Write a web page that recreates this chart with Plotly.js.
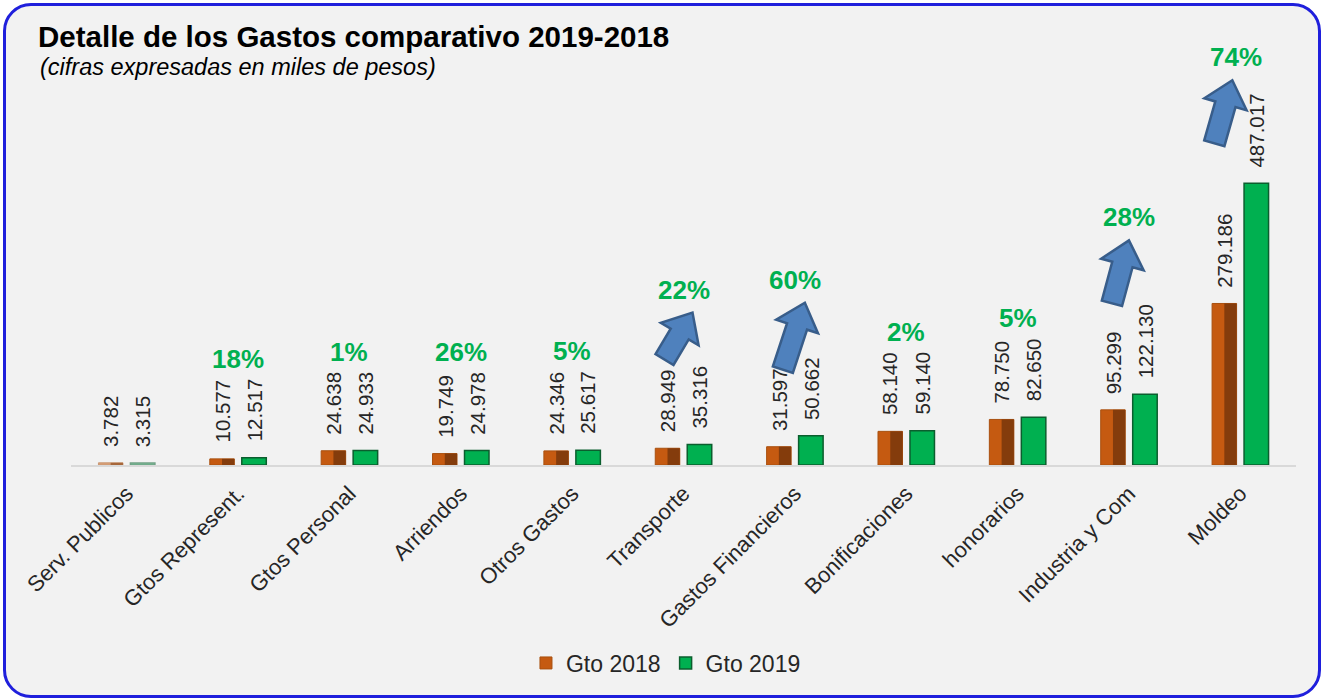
<!DOCTYPE html>
<html>
<head>
<meta charset="utf-8">
<script src="https://cdn.plot.ly/plotly-3.0.1.min.js"></script>
<style>
  body { margin: 0; background: #ffffff; }
  #marco { position: absolute; left: 3px; top: 3px; width: 1312px; height: 689px;
           border: 3px solid #1f1fdc; border-radius: 28px; background: #f2f2f2; }
  #grafico { position: absolute; left: 0; top: 0; width: 1324px; height: 700px; }
</style>
</head>
<body>
<div id="marco"></div>
<div id="grafico"></div>
<script>
// --- 1. DATOS (miles de pesos) ---
const categorias = ['Serv. Publicos', 'Gtos Represent.', 'Gtos Personal', 'Arriendos', 'Otros Gastos',
    'Transporte', 'Gastos Financieros', 'Bonificaciones', 'honorarios', 'Industria y Com', 'Moldeo'];
const gto2018 = [3782, 10577, 24638, 19749, 24346, 28949, 31597, 58140, 78750, 95299, 279186];
const gto2019 = [3315, 12517, 24933, 24978, 25617, 35316, 50662, 59140, 82650, 122130, 487017];
const conFlecha = ['Transporte', 'Gastos Financieros', 'Industria y Com', 'Moldeo'];

// --- 2. ESTILO ---
const FUENTE = '"Liberation Sans", Arial, sans-serif';
const ANCHO = 0.22;          // ancho de barra (unidades de categoria)
const DESP = 0.1436;         // centro de cada barra respecto al centro del grupo
const DESP_PX = 16;

// posicion de las flechas en pixeles, relativo al centro del grupo y al tope de la barra mayor
const flechas = {
    'Transporte':         { cola: [-19, 85], punta: [9, 132] },
    'Gastos Financieros': { cola: [-12, 66], punta: [10, 133] },
    'Industria y Com':    { cola: [-17, 91], punta: [0, 154] },
    'Moldeo':             { cola: [-26, 40], punta: [-8, 103] }
};

function formato(v) {
    return String(v).replace(/\B(?=(\d{3})+(?!\d))/g, '.');
}

function caminoFlecha(t, p) {
    const dx = p[0] - t[0], dy = p[1] - t[1];
    const L = Math.sqrt(dx * dx + dy * dy);
    const ux = dx / L, uy = dy / L;
    const nx = -uy, ny = ux;
    const h = 25, hw = 22, sw = 10.5;
    const bx = p[0] - ux * h, by = p[1] - uy * h;
    const pts = [
        [t[0] + nx * sw, t[1] + ny * sw],
        [bx + nx * sw, by + ny * sw],
        [bx + nx * hw, by + ny * hw],
        [p[0], p[1]],
        [bx - nx * hw, by - ny * hw],
        [bx - nx * sw, by - ny * sw],
        [t[0] - nx * sw, t[1] - ny * sw]
    ];
    return 'M' + pts.map(q => q[0].toFixed(1) + ',' + q[1].toFixed(1)).join(' L') + ' Z';
}

const opacidad = gto2018.map((v, i) => gto2019[i] < v ? 0.55 : 1);
const xIdx = categorias.map((c, i) => i);

// --- 3. TRAZAS ---
const trazas = [
    {
        type: 'bar', name: 'Gto 2018', x: xIdx, y: gto2018,
        width: ANCHO, offset: -DESP - ANCHO / 2,
        marker: { color: '#c55a11', opacity: opacidad, line: { color: '#a9500f', width: 1 } },
        hoverinfo: 'skip'
    },
    {
        type: 'bar', name: 'Gto 2018 sombra', x: xIdx, y: gto2018, showlegend: false,
        width: ANCHO / 2, offset: -DESP,
        marker: { color: '#843c0c', opacity: opacidad, line: { width: 0 } },
        hoverinfo: 'skip'
    },
    {
        type: 'bar', name: 'Gto 2019', x: xIdx, y: gto2019,
        width: ANCHO, offset: DESP - ANCHO / 2,
        marker: { color: '#00b050', opacity: opacidad, line: { color: '#0b5e2e', width: 1.5 } },
        hoverinfo: 'skip'
    }
];

// --- 4. ANOTACIONES Y FLECHAS ---
const anotaciones = [{
    xref: 'paper', yref: 'paper', x: (38 - 71) / 1225, xanchor: 'left',
    y: (465 - 67) / 405, yanchor: 'middle', showarrow: false,
    text: '<i>(cifras expresadas en miles de pesos)</i>',
    font: { family: FUENTE, size: 23.5, color: '#000000' }
}];
const formas = [];

categorias.forEach((c, i) => {
    anotaciones.push({
        x: i, y: gto2018[i], xshift: -DESP_PX, yshift: 14, yanchor: 'bottom',
        text: formato(gto2018[i]), textangle: -90, showarrow: false,
        font: { family: FUENTE, size: 20.5, color: '#262626' }
    });
    anotaciones.push({
        x: i, y: gto2019[i], xshift: DESP_PX, yshift: 14, yanchor: 'bottom',
        text: formato(gto2019[i]), textangle: -90, showarrow: false,
        font: { family: FUENTE, size: 20.5, color: '#262626' }
    });

    if (gto2019[i] > gto2018[i]) {
        const pct = Math.round((gto2019[i] / gto2018[i] - 1) * 100);
        const maximo = Math.max(gto2018[i], gto2019[i]);
        let alto = 99;
        let dx = 0;
        if (conFlecha.includes(c)) {
            const f = flechas[c];
            alto = f.punta[1] + 23;
            formas.push({
                type: 'path', xref: 'x', yref: 'y',
                xsizemode: 'pixel', ysizemode: 'pixel', xanchor: i, yanchor: maximo,
                path: caminoFlecha(f.cola, f.punta),
                fillcolor: '#4f81bd', line: { color: '#385d8a', width: 2.5 }, layer: 'above'
            });
            if (c === 'Moldeo') dx = -4;
        }
        anotaciones.push({
            x: i, y: maximo, xshift: dx, yshift: alto, yanchor: 'middle',
            text: '<b>' + pct + '%</b>', showarrow: false,
            font: { family: FUENTE, size: 26, color: '#00b050' }
        });
    }
});

// --- 5. LAYOUT ---
const layout = {
    width: 1324, height: 700,
    paper_bgcolor: 'rgba(0,0,0,0)', plot_bgcolor: 'rgba(0,0,0,0)',
    font: { family: FUENTE, color: '#262626' },
    margin: { l: 71, r: 28, t: 60, b: 235 },
    barmode: 'overlay',
    title: {
        text: 'Detalle de los Gastos comparativo 2019-2018',
        font: { family: FUENTE, size: 29.5, weight: 'bold', color: '#000000' },
        xref: 'container', yref: 'container', x: 38 / 1324, xanchor: 'left',
        y: 1 - 37 / 700, yanchor: 'middle'
    },
    xaxis: {
        type: 'linear', range: [-0.5, 10.5],
        tickmode: 'array', tickvals: xIdx, ticktext: categorias,
        tickangle: -45, tickfont: { family: FUENTE, size: 22, color: '#262626' },
        showgrid: false, zeroline: false,
        showline: true, linecolor: '#d9d9d9', linewidth: 2,
        ticks: '', ticklabelstandoff: 5
    },
    yaxis: {
        range: [0, 700000], visible: false, showgrid: false, zeroline: false
    },
    legend: {
        orientation: 'h', xref: 'container', yref: 'container',
        x: 0.503, xanchor: 'center', y: 1 - 663 / 700, yanchor: 'middle',
        font: { family: FUENTE, size: 23, color: '#262626' },
        bgcolor: 'rgba(0,0,0,0)'
    },
    annotations: anotaciones,
    shapes: formas
};

Plotly.newPlot('grafico', trazas, layout, { staticPlot: true });
</script>
</body>
</html>
